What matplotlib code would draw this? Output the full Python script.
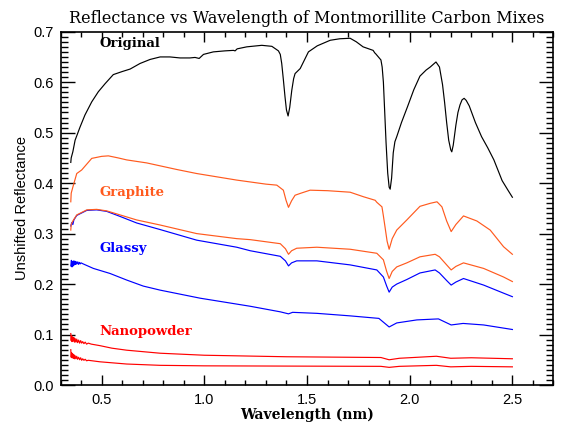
import matplotlib
matplotlib.use("Agg")
import matplotlib.pyplot as plt
from matplotlib.ticker import MultipleLocator, FormatStrFormatter

# Original (montmorillonite only)
orig_wl = [0.35, 0.352, 0.36, 0.371, 0.395, 0.419, 0.452, 0.484, 0.517, 0.557,
           0.60, 0.639, 0.687, 0.736, 0.785, 0.833, 0.882, 0.93, 0.955, 0.975,
           0.996, 1.044, 1.10, 1.142, 1.15, 1.16, 1.207, 1.28, 1.329, 1.361,
           1.37, 1.377, 1.385, 1.393, 1.40, 1.408, 1.416, 1.426, 1.435, 1.442,
           1.467, 1.507, 1.55, 1.613, 1.66, 1.71, 1.74, 1.773, 1.822, 1.83,
           1.835, 1.86, 1.866, 1.872, 1.878, 1.885, 1.893, 1.90, 1.905, 1.912,
           1.92, 1.928, 1.937, 1.96, 1.99, 2.02, 2.05, 2.08, 2.10, 2.128,
           2.145, 2.16, 2.17, 2.18, 2.19, 2.20, 2.205, 2.212, 2.225, 2.235,
           2.245, 2.255, 2.265, 2.275, 2.29, 2.32, 2.35, 2.38, 2.41, 2.45,
           2.48, 2.5]
orig_refl = [0.441, 0.450, 0.462, 0.485, 0.511, 0.535, 0.561, 0.581, 0.597, 0.615,
             0.621, 0.626, 0.637, 0.645, 0.650, 0.650, 0.648, 0.648, 0.649, 0.647,
             0.655, 0.660, 0.662, 0.663, 0.662, 0.666, 0.670, 0.673, 0.671, 0.662,
             0.655, 0.637, 0.605, 0.571, 0.545, 0.533, 0.550, 0.584, 0.607, 0.617,
             0.627, 0.660, 0.672, 0.683, 0.686, 0.687, 0.680, 0.670, 0.663, 0.658,
             0.656, 0.644, 0.630, 0.600, 0.545, 0.480, 0.420, 0.392, 0.388, 0.410,
             0.460, 0.482, 0.492, 0.520, 0.552, 0.585, 0.612, 0.624, 0.630, 0.640,
             0.630, 0.595, 0.560, 0.520, 0.485, 0.466, 0.462, 0.475, 0.515, 0.540,
             0.555, 0.565, 0.568, 0.564, 0.553, 0.520, 0.492, 0.470, 0.446, 0.405,
             0.385, 0.372]

# Graphite mixes
graph1_wl = [0.35, 0.352, 0.36, 0.379, 0.403, 0.452, 0.50, 0.533, 0.58, 0.622,
             0.72, 0.866, 0.963, 1.158, 1.30, 1.353, 1.385, 1.398, 1.41, 1.425,
             1.442, 1.47, 1.515, 1.60, 1.71, 1.775, 1.832, 1.84, 1.865, 1.872,
             1.88, 1.89, 1.90, 1.915, 1.937, 1.986, 2.05, 2.10, 2.133, 2.157,
             2.18, 2.202, 2.225, 2.262, 2.327, 2.392, 2.457, 2.5]
graph1_refl = [0.363, 0.380, 0.392, 0.419, 0.426, 0.449, 0.453, 0.454, 0.450, 0.446,
               0.440, 0.427, 0.419, 0.406, 0.398, 0.396, 0.386, 0.366, 0.352, 0.365,
               0.376, 0.380, 0.386, 0.385, 0.382, 0.373, 0.366, 0.362, 0.353, 0.335,
               0.313, 0.285, 0.269, 0.290, 0.307, 0.327, 0.354, 0.360, 0.363, 0.353,
               0.325, 0.304, 0.318, 0.335, 0.325, 0.307, 0.274, 0.259]

graph2_wl = [0.35, 0.352, 0.36, 0.379, 0.428, 0.476, 0.525, 0.59, 0.671, 0.785,
             0.963, 1.158, 1.224, 1.37, 1.395, 1.41, 1.425, 1.45, 1.548, 1.71,
             1.84, 1.872, 1.888, 1.90, 1.915, 1.937, 1.986, 2.05, 2.124, 2.145,
             2.18, 2.202, 2.225, 2.262, 2.36, 2.457, 2.5]
graph2_refl = [0.307, 0.318, 0.325, 0.337, 0.347, 0.348, 0.345, 0.337, 0.327, 0.317,
               0.300, 0.290, 0.288, 0.280, 0.270, 0.259, 0.266, 0.271, 0.273, 0.269,
               0.261, 0.248, 0.225, 0.211, 0.225, 0.234, 0.242, 0.254, 0.259, 0.254,
               0.238, 0.228, 0.235, 0.242, 0.231, 0.214, 0.205]

# Glassy carbon mixes
glass1_wl = [0.35, 0.355, 0.36, 0.365, 0.379, 0.428, 0.476, 0.525, 0.59, 0.671,
             0.785, 0.963, 1.158, 1.224, 1.37, 1.395, 1.41, 1.425, 1.45, 1.548,
             1.71, 1.84, 1.872, 1.888, 1.90, 1.915, 1.937, 1.986, 2.05, 2.124,
             2.145, 2.18, 2.202, 2.225, 2.262, 2.36, 2.457, 2.5]
glass1_refl = [0.315, 0.322, 0.318, 0.327, 0.336, 0.346, 0.347, 0.344, 0.334, 0.321,
               0.308, 0.287, 0.273, 0.266, 0.255, 0.246, 0.236, 0.242, 0.246, 0.246,
               0.238, 0.228, 0.214, 0.196, 0.184, 0.194, 0.200, 0.209, 0.222, 0.228,
               0.222, 0.207, 0.198, 0.204, 0.211, 0.198, 0.182, 0.175]

glass2_wl = [0.350, 0.353, 0.356, 0.359, 0.362, 0.365, 0.368, 0.371, 0.374, 0.377,
             0.380, 0.384, 0.388, 0.392, 0.396, 0.40, 0.41, 0.46, 0.541, 0.622,
             0.703, 0.785, 0.98, 1.224, 1.37, 1.41, 1.43, 1.548, 1.71, 1.85,
             1.90, 1.937, 2.035, 2.14, 2.202, 2.26, 2.36, 2.5]
glass2_refl = [0.236, 0.247, 0.234, 0.245, 0.236, 0.246, 0.238, 0.245, 0.239, 0.244,
               0.240, 0.244, 0.239, 0.243, 0.240, 0.242, 0.240, 0.231, 0.221, 0.208,
               0.196, 0.188, 0.172, 0.156, 0.145, 0.141, 0.144, 0.142, 0.137, 0.132,
               0.115, 0.123, 0.129, 0.131, 0.119, 0.122, 0.119, 0.110]

# Nanopowder mixes
nano1_wl = [0.350, 0.352, 0.354, 0.356, 0.359, 0.362, 0.365, 0.368, 0.371, 0.375,
            0.379, 0.383, 0.388, 0.393, 0.398, 0.403, 0.408, 0.414, 0.420, 0.427,
            0.435, 0.45, 0.492, 0.55, 0.622, 0.785, 1.0, 1.4, 1.86, 1.90,
            1.95, 2.13, 2.2, 2.3, 2.5]
nano1_refl = [0.102, 0.088, 0.098, 0.086, 0.095, 0.087, 0.094, 0.085, 0.092, 0.085,
              0.091, 0.084, 0.089, 0.083, 0.088, 0.083, 0.086, 0.082, 0.085, 0.081,
              0.083, 0.081, 0.078, 0.073, 0.069, 0.063, 0.059, 0.056, 0.0545, 0.050,
              0.053, 0.057, 0.053, 0.054, 0.052]

nano2_wl = [0.350, 0.352, 0.354, 0.356, 0.359, 0.362, 0.365, 0.368, 0.371, 0.375,
            0.379, 0.383, 0.388, 0.393, 0.398, 0.403, 0.408, 0.414, 0.420, 0.427,
            0.435, 0.492, 0.622, 0.785, 1.0, 1.4, 1.86, 1.90, 1.95, 2.13,
            2.2, 2.3, 2.5]
nano2_refl = [0.070, 0.055, 0.064, 0.054, 0.062, 0.053, 0.060, 0.052, 0.058, 0.052,
              0.057, 0.051, 0.055, 0.050, 0.054, 0.049, 0.052, 0.049, 0.051, 0.048,
              0.049, 0.046, 0.0416, 0.039, 0.038, 0.0375, 0.037, 0.035, 0.037, 0.039,
              0.036, 0.037, 0.036]

orange = '#ff5a1e'
blue = '#0000ff'
red = '#ff0000'

fig = plt.figure(figsize=(5.64, 4.26), dpi=100)
ax = fig.add_axes([0.1073, 0.0962, 0.874, 0.8294])

lw = 0.85
ax.plot(orig_wl, orig_refl, color='black', lw=lw)
ax.plot(graph1_wl, graph1_refl, color=orange, lw=lw)
ax.plot(glass1_wl, glass1_refl, color=blue, lw=lw)
ax.plot(graph2_wl, graph2_refl, color=orange, lw=lw)
ax.plot(glass2_wl, glass2_refl, color=blue, lw=lw)
ax.plot(nano1_wl, nano1_refl, color=red, lw=lw)
ax.plot(nano2_wl, nano2_refl, color=red, lw=lw)

lab_font = dict(family='DejaVu Serif', fontsize=9.5, fontweight='semibold', va='center')
ax.text(0.49, 0.677, 'Original', color='black', **lab_font)
ax.text(0.49, 0.382, 'Graphite', color=orange, **lab_font)
ax.text(0.49, 0.271, 'Glassy', color=blue, **lab_font)
ax.text(0.49, 0.107, 'Nanopowder', color=red, **lab_font)

ax.set_xlim(0.3, 2.7)
ax.set_ylim(0.0, 0.7)
ax.xaxis.set_major_locator(MultipleLocator(0.5))
ax.xaxis.set_minor_locator(MultipleLocator(0.1))
ax.yaxis.set_major_locator(MultipleLocator(0.1))
ax.yaxis.set_minor_locator(MultipleLocator(0.01))
ax.xaxis.set_major_formatter(FormatStrFormatter('%.1f'))
ax.yaxis.set_major_formatter(FormatStrFormatter('%.1f'))
ax.tick_params(axis='x', which='major', direction='in', length=7, width=1,
               top=True, bottom=True, pad=6)
ax.tick_params(axis='x', which='minor', direction='in', length=3.5, width=1,
               top=True, bottom=True)
ax.tick_params(axis='y', which='major', direction='in', length=10, width=1,
               left=True, right=True, pad=5)
ax.tick_params(axis='y', which='minor', direction='in', length=5, width=1,
               left=True, right=True)
ax.tick_params(labelsize=10.5)
for lbl in ax.get_xticklabels() + ax.get_yticklabels():
    lbl.set_family('Liberation Sans')
for sp in ax.spines.values():
    sp.set_linewidth(1.2)

ax.set_xlabel('Wavelength (nm)', family='DejaVu Serif', fontsize=10,
              fontweight='semibold', labelpad=0)
ax.set_ylabel('Unshifted Reflectance', family='Liberation Sans', fontsize=10.5,
              labelpad=3)
ax.set_title('Reflectance vs Wavelength of Montmorillite Carbon Mixes',
             family='DejaVu Serif', fontsize=11.5, pad=6)

fig.savefig('out.png', dpi=100)
